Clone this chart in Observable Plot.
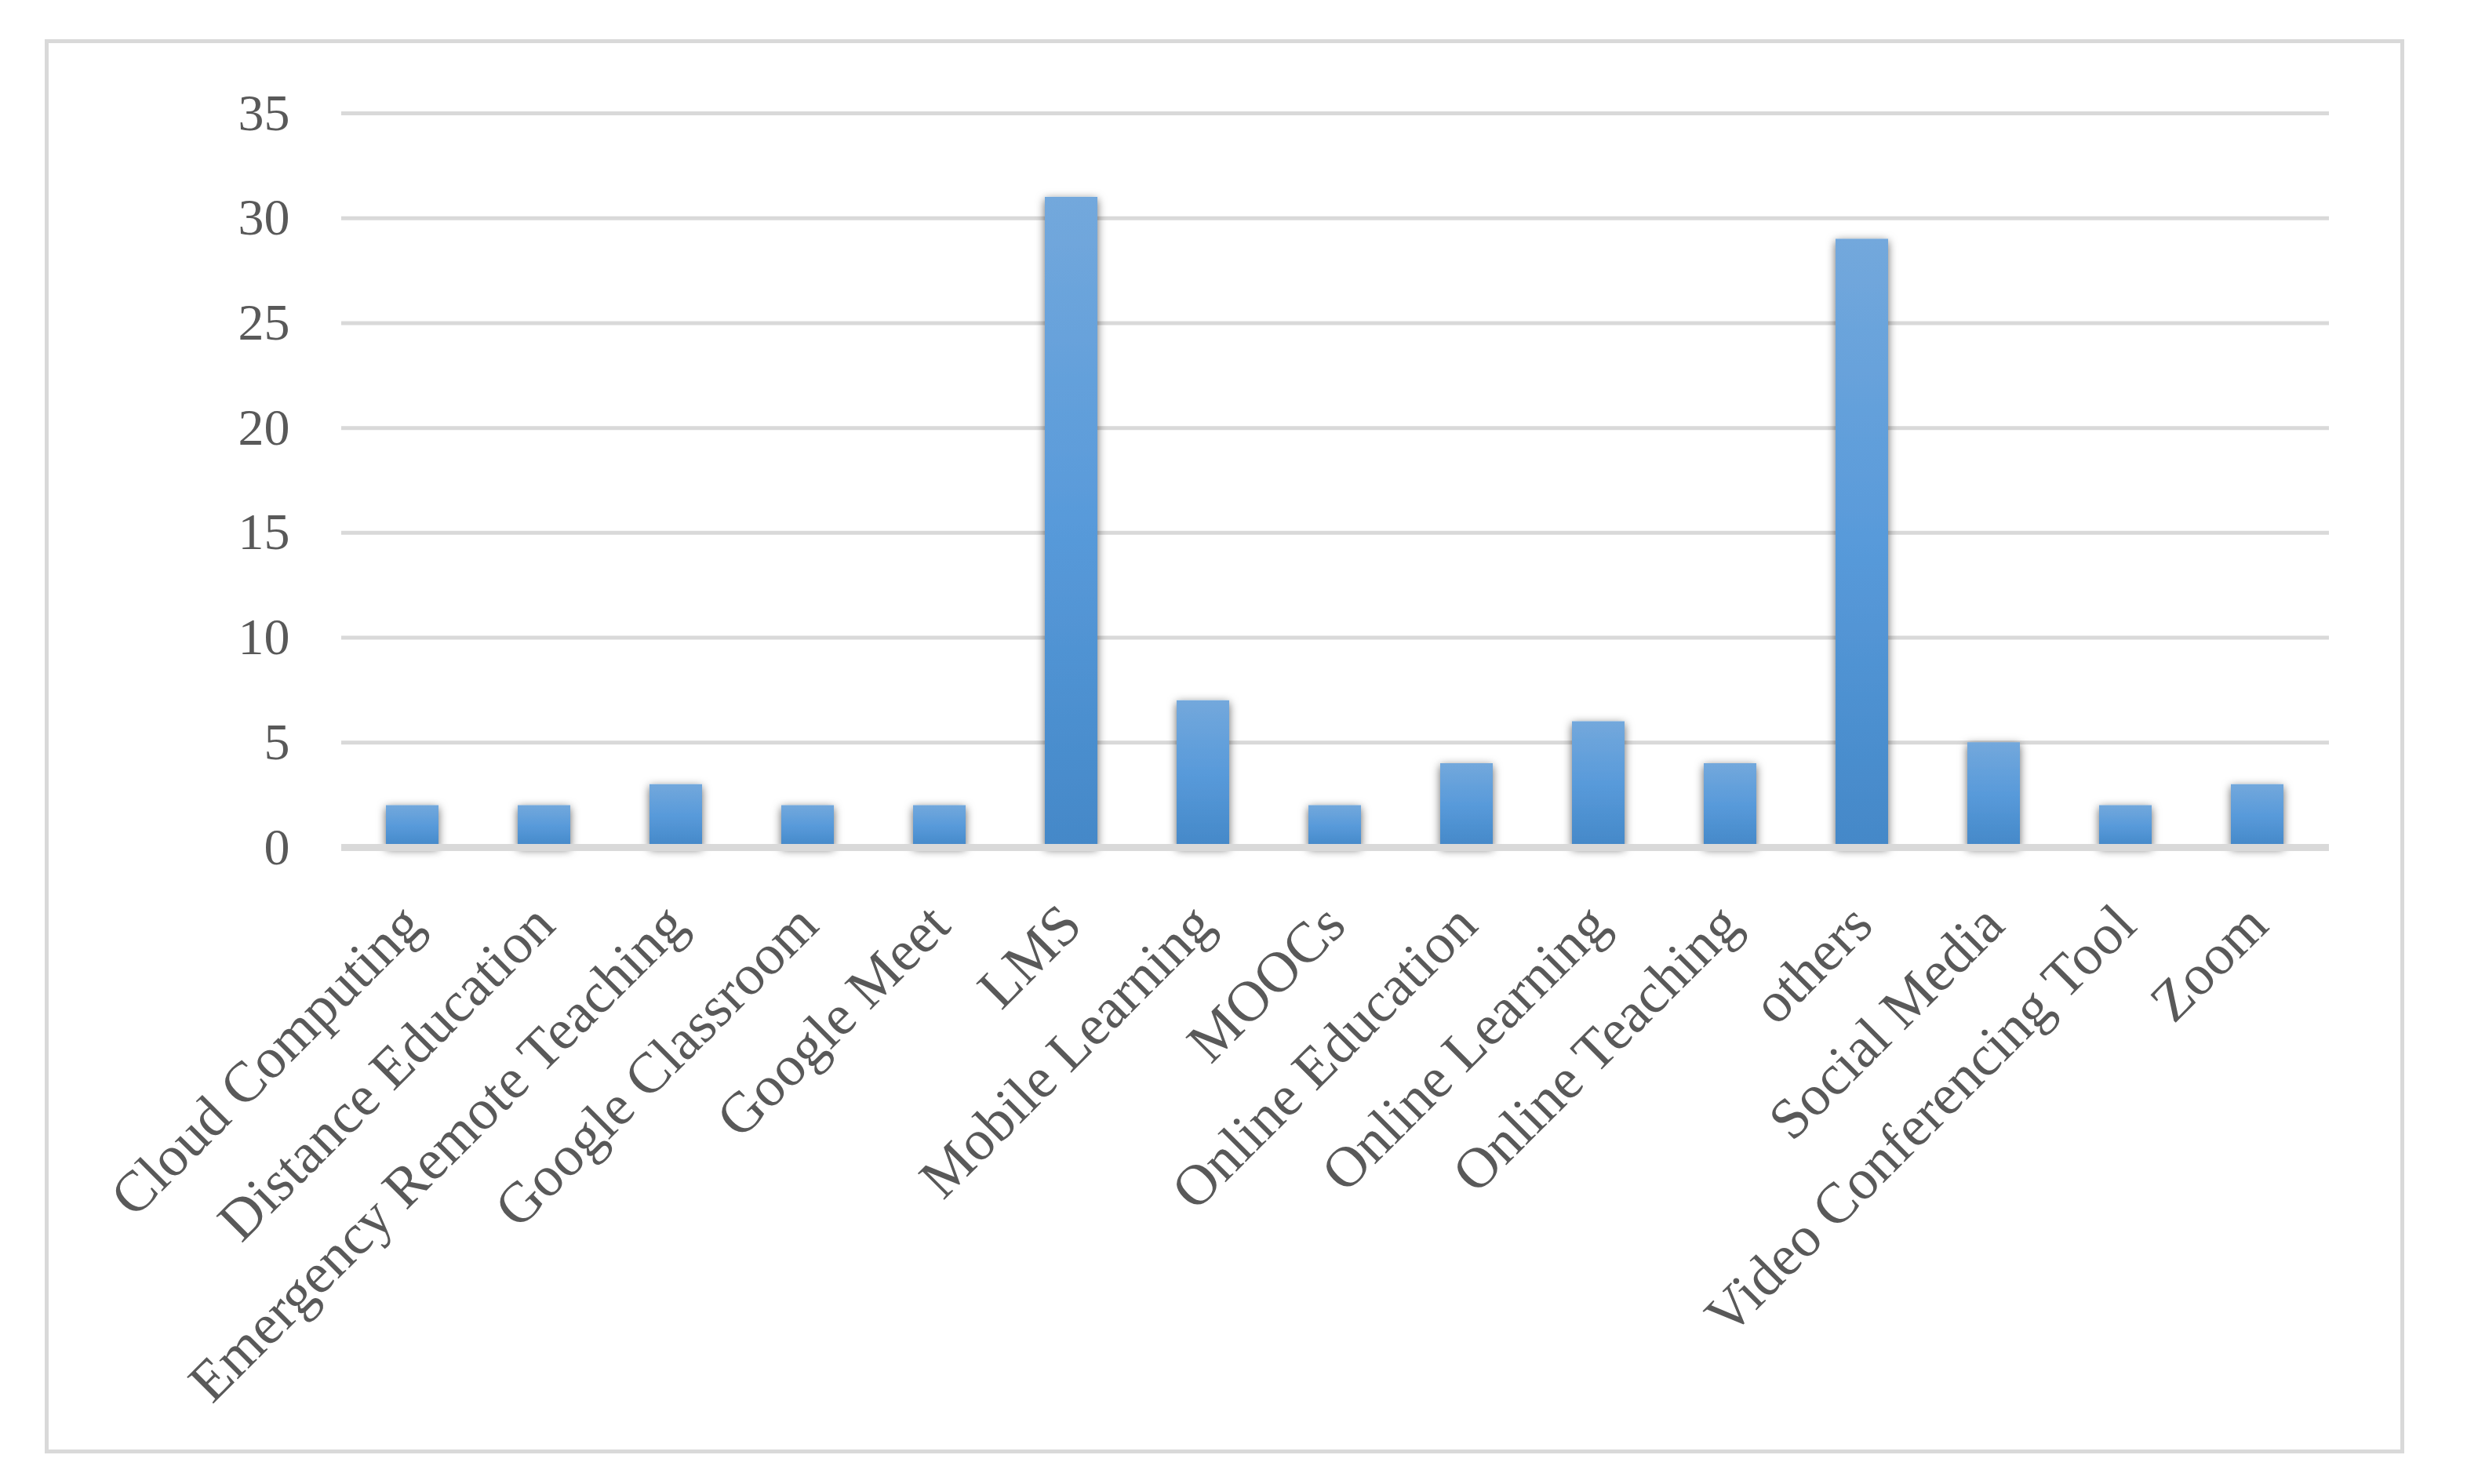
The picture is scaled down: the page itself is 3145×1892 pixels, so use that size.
<!DOCTYPE html>
<html>
<head>
<meta charset="utf-8">
<script src="https://cdn.jsdelivr.net/npm/d3@7"></script>
<script src="https://cdn.jsdelivr.net/npm/@observablehq/plot@0.6"></script>
<style>
html, body { margin: 0; padding: 0; background: #ffffff; }
#wrap { position: relative; width: 3145px; height: 1892px; overflow: hidden; }
#frame { position: absolute; left: 57px; top: 50px; width: 3008px; height: 1803px; border: 5px solid #d9d9d9; box-sizing: border-box; pointer-events: none; }
#wrap svg { position: absolute; left: 0; top: 0; }
</style>
</head>
<body>
<div id="wrap"><div id="frame"></div></div>
<script>
const categories = [
  "Cloud Computing", "Distance Education", "Emergency Remote Teaching", "Google Classroom",
  "Google Meet", "LMS", "Mobile Learning", "MOOCs", "Online Education", "Online Learning",
  "Online Teaching", "others", "Social Media", "Video Conferencing Tool", "Zoom"
];
const counts = [2, 2, 3, 2, 2, 31, 7, 2, 4, 6, 4, 29, 5, 2, 3];
const yTicks = [0, 5, 10, 15, 20, 25, 30, 35];

const data = categories.map((category, i) => ({category, count: counts[i]}));

const chart = Plot.plot({
  width: 3145,
  height: 1892,
  marginLeft: 435,
  marginRight: 176,
  marginTop: 144,
  marginBottom: 812,
  style: {background: "transparent", fontFamily: "'Liberation Serif', serif"},
  x: {domain: categories, paddingInner: 0.6, paddingOuter: 0.3, label: null},
  y: {domain: [0, 35], label: null},
  marks: [
    Plot.gridY(yTicks.filter(t => t > 0), {stroke: "#d9d9d9", strokeWidth: 5, strokeOpacity: 1}),
    Plot.axisY(yTicks, {tickSize: 0, tickPadding: 66, fontSize: 66, color: "#595959", label: null, fontFamily: "'Liberation Serif', serif"}),
    Plot.barY(data, {x: "category", y: "count", fill: "url(#barGrad)"}),
    Plot.ruleY([0], {stroke: "#d9d9d9", strokeWidth: 9}),
    Plot.axisX({tickSize: 0, tickRotate: -45, tickPadding: 86, fontSize: 73, color: "#595959", label: null, fontFamily: "'Liberation Serif', serif"})
  ]
});

const svg = d3.select(chart);
svg.insert("defs", ":first-child").html(`
  <linearGradient id="barGrad" x1="0" y1="0" x2="0" y2="1">
    <stop offset="0" stop-color="#73a8dc"/>
    <stop offset="0.5" stop-color="#589ada"/>
    <stop offset="1" stop-color="#4488c8"/>
  </linearGradient>
  <filter id="barShadow" x="-50%" y="-10%" width="200%" height="130%">
    <feDropShadow dx="0" dy="3" stdDeviation="6" flood-color="#000" flood-opacity="0.6"/>
  </filter>
`);
svg.selectAll("g[aria-label='bar']").attr("filter", "url(#barShadow)");

document.getElementById("wrap").insertBefore(chart, document.getElementById("frame"));
</script>
</body>
</html>
